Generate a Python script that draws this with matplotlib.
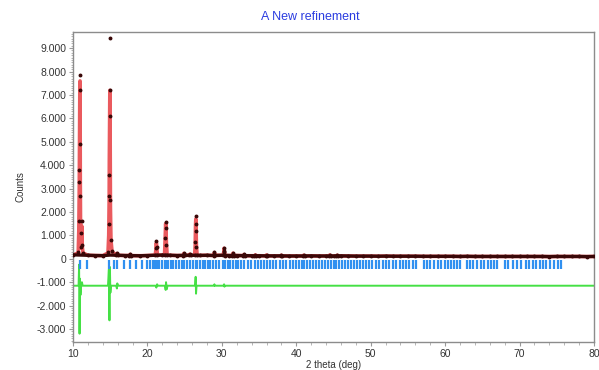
import matplotlib
matplotlib.use("Agg")
import matplotlib.pyplot as plt
from matplotlib.ticker import MultipleLocator, FuncFormatter
import numpy as np

plt.rcParams['font.family'] = ['Liberation Sans', 'DejaVu Sans']

title = "A New refinement"
x_label = "2 theta (deg)"
y_label = "Counts"

# background (observed ~ calculated) counts sampled each degree
bg_two_theta = list(range(10, 81))
bg_counts = [170, 160, 150, 140, 135, 160, 150, 140, 135, 130,
             140, 150, 160, 150, 140, 150, 150, 145, 150, 140,
             150, 140, 140, 135, 130, 130, 125, 125, 125, 120,
             120, 120, 125, 120, 120, 120, 125, 120, 115, 115,
             115, 110, 115, 110, 110, 110, 110, 105, 105, 105,
             105, 105, 100, 105, 100, 100, 100, 100, 100, 100,
             100, 100, 100, 100, 95, 100, 100, 100, 100, 95, 100]

# peak profile points: 2theta, observed, calculated
peak_two_theta = [10.70, 10.78, 10.84, 10.86, 10.88, 10.92, 10.95, 10.98, 11.02, 11.10, 11.18, 11.25, 11.35,
                  14.70, 14.80, 14.86, 14.88, 14.92, 14.95, 14.99, 15.03, 15.10, 15.25,
                  15.78, 15.90, 16.02,
                  17.58, 17.70, 17.82,
                  21.05, 21.15, 21.20, 21.25, 21.35,
                  22.30, 22.40, 22.45, 22.50, 22.55, 22.65,
                  24.78, 24.90, 25.02,
                  25.58, 25.70, 25.82,
                  26.35, 26.42, 26.46, 26.50, 26.54, 26.58, 26.68,
                  28.88, 29.00, 29.12,
                  30.15, 30.25, 30.30, 30.35, 30.45,
                  31.38, 31.50, 31.62,
                  32.88, 33.00, 33.12,
                  34.38, 34.50, 34.62,
                  35.88, 36.00, 36.12,
                  37.88, 38.00, 38.12,
                  40.88, 41.00, 41.12,
                  44.38, 44.50, 44.62,
                  45.38, 45.50, 45.62]
peak_obs = [300, 1600, 3300, 3800, 4900, 7200, 7850, 2700, 1100, 500, 1600, 600, 250,
            300, 1500, 2700, 3600, 6100, 7200, 9450, 2500, 800, 350,
            150, 250, 150,
            140, 210, 135,
            160, 450, 740, 500, 160,
            170, 900, 1590, 1300, 600, 160,
            140, 250, 150,
            150, 220, 145,
            160, 700, 1500, 1830, 1200, 500, 150,
            140, 300, 150,
            150, 300, 480, 320, 140,
            140, 260, 140,
            135, 200, 130,
            130, 180, 130,
            125, 180, 125,
            125, 170, 120,
            120, 170, 120,
            120, 180, 120,
            120, 170, 125]
peak_calc = [250, 1200, 3000, 4200, 6000, 7400, 7600, 3500, 1000, 450, 1400, 500, 250,
             250, 1000, 2600, 4200, 6000, 7200, 5500, 2200, 800, 300,
             150, 230, 150,
             140, 190, 135,
             160, 420, 680, 480, 160,
             170, 1000, 1500, 1200, 650, 160,
             140, 230, 150,
             150, 200, 145,
             160, 600, 1400, 1700, 1300, 550, 150,
             140, 270, 150,
             150, 280, 450, 300, 140,
             140, 240, 140,
             135, 185, 130,
             130, 165, 130,
             125, 165, 125,
             125, 155, 120,
             120, 155, 120,
             120, 165, 120,
             120, 155, 125]

# difference curve (obs - calc), drawn at an offset
diff_offset = -1150
diff_two_theta = [10.0, 10.75, 10.82, 10.88, 10.94, 11.00, 11.10, 11.20, 11.30,
                  14.70, 14.82, 14.90, 14.96, 15.02, 15.10,
                  15.80, 15.90, 15.95, 16.05,
                  21.10, 21.20, 21.30, 21.40,
                  22.35, 22.45, 22.50, 22.60, 22.70,
                  26.40, 26.48, 26.53, 26.60,
                  28.95, 29.00, 29.05,
                  30.20, 30.30, 30.35, 30.45, 80.0]
diff_values = [0, 0, 900, -2050, 300, -400, 0, 150, 0,
               0, 700, -1480, 800, -300, 0,
               0, -120, 100, 0,
               0, -80, 60, 0,
               0, -180, 150, -150, 0,
               0, 380, -340, 0,
               0, 60, 0,
               0, 60, -40, 0, 0]

# reflection positions (tick marks)
reflections = [10.9, 11.9, 14.9, 15.5, 15.9, 16.9, 17.7, 18.5, 19.3, 19.9,
               20.4, 20.8, 21.0, 21.3, 21.6, 21.9, 22.3, 22.5, 22.8, 23.1, 23.4, 23.8,
               24.2, 24.6, 24.9, 25.3, 25.7, 26.1, 26.5, 26.7, 27.0, 27.4, 27.8, 28.1,
               28.4, 28.8, 29.2, 29.6, 30.1, 30.4, 30.8, 31.1, 31.5, 31.9, 32.2, 32.6,
               33.0, 33.5, 33.9, 34.4, 34.8, 35.2, 35.7, 36.1, 36.5, 36.9, 37.3, 37.8,
               38.2, 38.6, 39.1, 39.5, 39.9, 40.3, 40.8, 41.1, 41.5, 41.9, 42.3, 42.7,
               43.1, 43.5, 43.9, 44.3, 44.7, 45.0, 45.4, 45.8, 46.2, 46.6, 47.0, 47.4,
               47.8, 48.2, 48.6, 49.0, 49.4, 49.8, 50.2, 50.7, 51.1, 51.6, 52.0, 52.5,
               53.0, 53.4, 53.9, 54.3, 54.8, 55.2, 55.7, 56.1, 57.1, 57.6, 58.0, 58.5,
               59.0, 59.4, 60.0, 60.4, 60.8, 61.2, 61.6, 62.0, 62.9, 63.3, 63.8, 64.3,
               64.8, 65.2, 65.7, 66.1, 66.6, 67.0, 68.1, 68.5, 69.1, 69.6, 70.2, 70.8,
               71.3, 71.8, 72.2, 72.7, 73.2, 73.6, 74.1, 74.6, 75.1, 75.5]

# merge background and peak points
pk = np.array(peak_two_theta)
bg_x = np.array(bg_two_theta, dtype=float)
bg_y = np.array(bg_counts, dtype=float)
keep = np.array([np.min(np.abs(pk - x)) > 0.3 for x in bg_x])
all_x = np.concatenate([bg_x[keep], pk])
all_obs = np.concatenate([bg_y[keep], np.array(peak_obs)])
all_calc = np.concatenate([bg_y[keep], np.array(peak_calc)])
order = np.argsort(all_x)
all_x, all_obs, all_calc = all_x[order], all_obs[order], all_calc[order]

fig = plt.figure(figsize=(5.99, 3.70), dpi=100)
ax = fig.add_axes([73 / 599, 28 / 370, 521 / 599, 310 / 370])

ax.plot(all_x, all_calc, color='#e8484c', lw=2.6, alpha=0.9, zorder=2)
# observed background rendered as a dense dark band of points
ax.plot(bg_x, bg_y, color='#3a0808', lw=2.4, zorder=3)
ax.plot(all_x, all_obs, 'o', color='#3a0808', ms=1.8, zorder=4)
ax.plot(diff_two_theta, np.array(diff_values) + diff_offset, color='#45e045', lw=1.4, zorder=2)
ax.vlines(reflections, -450, -60, color='#3090f0', lw=1.6, zorder=3)

ax.set_xlim(10, 80)
ax.set_ylim(-3555, 9690)
ax.xaxis.set_major_locator(MultipleLocator(10))
ax.xaxis.set_minor_locator(MultipleLocator(2))
ax.yaxis.set_major_locator(MultipleLocator(1000))
ax.yaxis.set_minor_locator(MultipleLocator(100))
ax.yaxis.set_major_formatter(FuncFormatter(lambda v, p: f"{int(round(v)):,}".replace(",", ".")))

for s in ax.spines.values():
    s.set_color('#8c8c8c')
    s.set_linewidth(1.0)
ax.tick_params(axis='both', which='major', labelsize=7.5, colors='#999999', labelcolor='#333333', length=3, width=0.8, pad=2)
ax.tick_params(axis='both', which='minor', colors='#aaaaaa', length=1.8, width=0.6)

ax.set_xlabel(x_label, fontsize=7, color='#333333', labelpad=1)
ax.set_ylabel(y_label, fontsize=7, color='#333333', labelpad=8)
fig.text(0.518, 0.955, title, ha='center', va='center', fontsize=9, color='#2b3ce0')

fig.savefig("out.png", dpi=100)
